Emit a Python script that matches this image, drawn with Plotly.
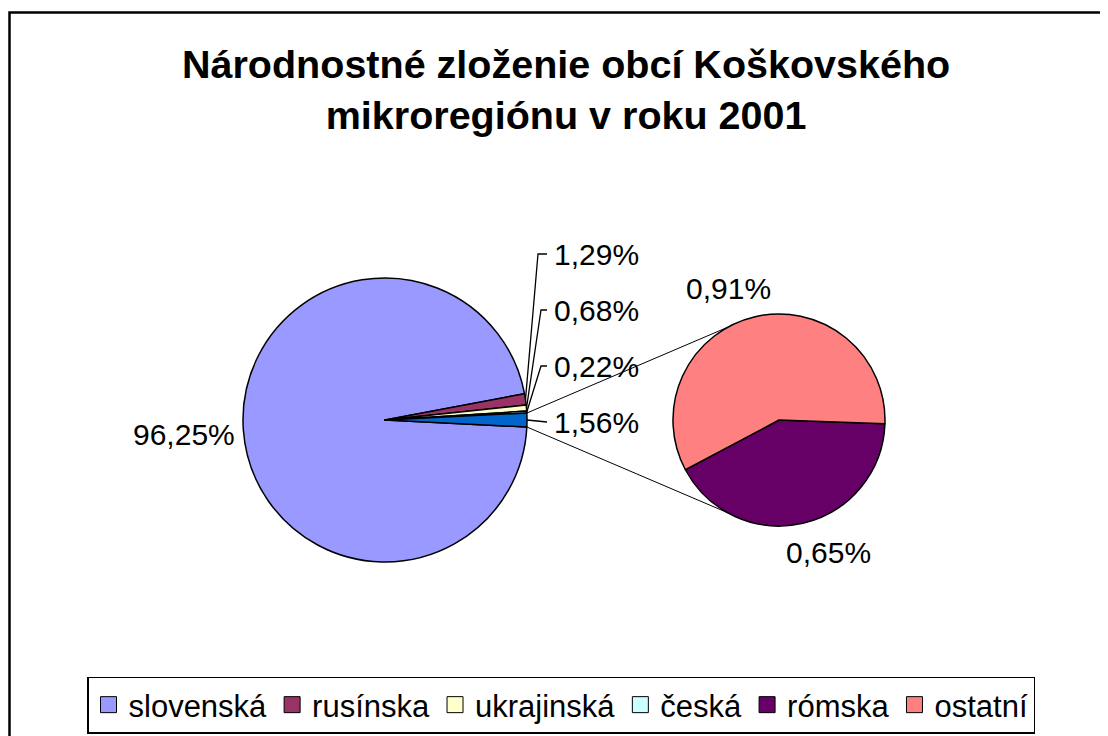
import math
import plotly.graph_objects as go

# page window is 1108x736; the html body adds an 8px margin, so the figure is
# made 8px smaller and every pixel position is shifted by that offset
OFF = 8
W, H = 1108 - OFF, 736 - OFF

# ---------------- data ----------------
categories = ["slovenská", "rusínska", "ukrajinská", "česká", "rómska", "ostatní"]
shares = [96.25, 1.29, 0.68, 0.22, 0.65, 0.91]
colors = ["#9999FF", "#993366", "#FFFFCC", "#CCFFFF", "#660066", "#FF8080"]
split_color = "#0066CC"
title_text = "Národnostné zloženie obcí Koškovského<br>mikroregiónu v roku 2001"

main_labels = categories[:4]
main_values = shares[:4]
second_labels = categories[4:]
second_values = shares[4:]
other_value = round(sum(second_values), 2)


def fmt(v):
    return f"{v:.2f}%".replace(".", ",")


# ---------------- geometry (window pixels) ----------------
MC = (385, 420)
MR = 142
SC = (779, 420)
SR = 106
FONT = "Arial, Liberation Sans, sans-serif"


def px(x):
    return (x - OFF) / W


def py(y):
    return 1 - (y - OFF) / H


def dom(c, r):
    return dict(x=[px(c[0] - r), px(c[0] + r)], y=[py(c[1] + r), py(c[1] - r)])


def edge(c, r, ang):
    a = math.radians(ang)
    return c[0] + r * math.cos(a), c[1] - r * math.sin(a)


total_main = sum(main_values) + other_value
other_deg = other_value / total_main * 360
main_rotation = 90 + other_deg / 2

fig = go.Figure()

fig.add_trace(go.Pie(
    labels=main_labels + ["ostatné spolu"],
    values=main_values + [other_value],
    marker=dict(colors=colors[:4] + [split_color], line=dict(color="black", width=1.5)),
    sort=False, direction="clockwise", rotation=main_rotation,
    textinfo="none", hoverinfo="label+percent", showlegend=False,
    domain=dom(MC, MR),
))

fig.add_trace(go.Pie(
    labels=second_labels,
    values=second_values,
    marker=dict(colors=colors[4:], line=dict(color="black", width=1.5)),
    sort=False, direction="clockwise", rotation=92,
    textinfo="none", hoverinfo="label+value", showlegend=False,
    domain=dom(SC, SR),
))

# legend entries
for lab, col in zip(categories, colors):
    fig.add_trace(go.Scatter(
        x=[None], y=[None], mode="markers", name=lab,
        marker=dict(symbol="square", size=16, color=col, line=dict(color="black", width=1)),
    ))

shapes = []
annotations = []

# slice angle bookkeeping (math angles, ccw from 3 o'clock)
start = -other_deg / 2
mids = []
cur = start
for v in main_values:
    d = v / total_main * 360
    mids.append(cur - d / 2)
    cur -= d
slov_mid = start - (main_values[0] / total_main * 360) / 2

# label for slovenská
lx, ly = edge(MC, MR + 6, slov_mid)
annotations.append(dict(x=px(lx), y=py(ly + 4), xref="paper", yref="paper", text=fmt(main_values[0]),
                        showarrow=False, xanchor="right", yanchor="middle",
                        font=dict(family=FONT, size=30, color="black")))

# small labels with leader lines
small_vals = main_values[1:] + [other_value]
small_mids = mids[1:] + [0.0]
label_y = [254, 310, 366, 422]
elbow_x = [538, 541, 541, None]
LABEL_X = 552
LINE_END = 547
for v, m, yy, ex in zip(small_vals, small_mids, label_y, elbow_x):
    sx, sy = edge(MC, MR, m)
    if ex is None:
        path = f"M {px(sx)},{py(sy)} L {px(LINE_END)},{py(yy)}"
    else:
        path = f"M {px(sx)},{py(sy)} L {px(ex)},{py(yy)} L {px(LINE_END)},{py(yy)}"
    shapes.append(dict(type="path", path=path, xref="paper", yref="paper",
                       line=dict(color="black", width=1.3)))
    annotations.append(dict(x=px(LABEL_X), y=py(yy), xref="paper", yref="paper", text=fmt(v),
                            showarrow=False, xanchor="left", yanchor="middle",
                            font=dict(family=FONT, size=30, color="black")))

# second pie labels
annotations.append(dict(x=px(728), y=py(288), xref="paper", yref="paper", text=fmt(second_values[1]),
                        showarrow=False, xanchor="center", yanchor="middle",
                        font=dict(family=FONT, size=30, color="black")))
annotations.append(dict(x=px(828), y=py(552), xref="paper", yref="paper", text=fmt(second_values[0]),
                        showarrow=False, xanchor="center", yanchor="middle",
                        font=dict(family=FONT, size=30, color="black")))

# connector lines between pies
for sgn in (1, -1):
    a0 = edge(MC, MR, sgn * other_deg / 2)
    a1 = edge(SC, SR, sgn * 119)
    shapes.append(dict(type="line", xref="paper", yref="paper",
                       x0=px(a0[0]), y0=py(a0[1]), x1=px(a1[0]), y1=py(a1[1]),
                       line=dict(color="black", width=1)))

# chart frame
shapes.append(dict(type="rect", xref="paper", yref="paper",
                   x0=px(9.5), y0=py(12.5), x1=px(1125), y1=py(760),
                   line=dict(color="black", width=2.5), fillcolor="rgba(0,0,0,0)"))

# title
annotations.append(dict(x=px(566), y=py(89), xref="paper", yref="paper", text=title_text,
                        showarrow=False, xanchor="center", yanchor="middle",
                        font=dict(family=FONT, size=39.5, color="black", weight="bold")))

fig.update_layout(
    width=W, height=H,
    margin=dict(l=0, r=0, t=0, b=0),
    paper_bgcolor="white", plot_bgcolor="white",
    xaxis=dict(visible=False), yaxis=dict(visible=False),
    shapes=shapes, annotations=annotations,
    showlegend=True,
    legend=dict(orientation="h", x=px(561), xanchor="center", y=py(705), yanchor="middle",
                font=dict(family=FONT, size=31, color="black"),
                bordercolor="black", borderwidth=1.5, bgcolor="white",
                itemclick=False, itemdoubleclick=False),
)

fig.write_html("out.html")
